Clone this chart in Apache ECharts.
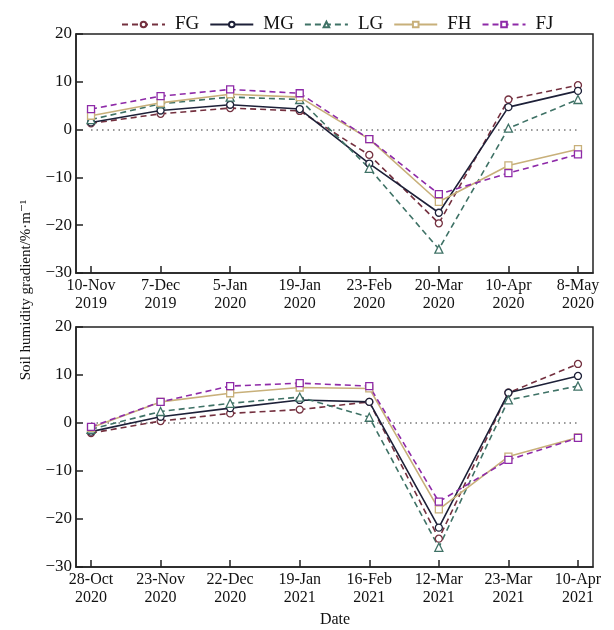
<!DOCTYPE html>
<html>
<head>
<meta charset="utf-8">
<script src="https://cdn.jsdelivr.net/npm/echarts@6/dist/echarts.min.js"></script>
<style>
  html, body { margin: 0; padding: 0; background: #fff; }
  #chart { width: 614px; height: 630px; }
</style>
</head>
<body>
<div id="chart"></div>
<script>
// Sampling dates, period 1 (2019–2020) and period 2 (2020–2021)
const dates1 = ['10-Nov\n2019', '7-Dec\n2019', '5-Jan\n2020', '19-Jan\n2020', '23-Feb\n2020', '20-Mar\n2020', '10-Apr\n2020', '8-May\n2020'];
const dates2 = ['28-Oct\n2020', '23-Nov\n2020', '22-Dec\n2020', '19-Jan\n2021', '16-Feb\n2021', '12-Mar\n2021', '23-Mar\n2021', '10-Apr\n2021'];

// Soil humidity gradient (%·m⁻¹), period 1
const FG1 = [1.3, 3.3, 4.5, 3.9, -5.3, -19.6, 6.3, 9.3];
const MG1 = [1.5, 4.0, 5.2, 4.3, -7.1, -17.4, 4.7, 8.1];
const LG1 = [2.1, 5.4, 6.8, 6.3, -8.1, -25.0, 0.3, 6.3];
const FH1 = [2.9, 5.6, 7.4, 6.8, -2.0, -15.1, -7.5, -4.1];
const FJ1 = [4.3, 7.0, 8.4, 7.6, -2.0, -13.5, -9.1, -5.2];

// Period 2
const FG2 = [-2.1, 0.4, 2.0, 2.8, 4.4, -24.1, 6.3, 12.3];
const MG2 = [-1.8, 1.3, 3.1, 4.8, 4.4, -21.8, 6.3, 9.8];
const LG2 = [-1.3, 2.4, 4.1, 5.4, 1.2, -25.9, 4.8, 7.7];
const FH2 = [-1.0, 4.4, 6.2, 7.4, 7.2, -18.0, -7.0, -3.0];
const FJ2 = [-0.8, 4.4, 7.7, 8.3, 7.7, -16.4, -7.7, -3.1];

const FONT = '"Liberation Serif", "DejaVu Serif", serif';
const TEXT = '#111';

const styles = {
  FG: { color: '#74303f', type: [6, 4], symbol: 'circle' },
  MG: { color: '#1d2038', type: 'solid', symbol: 'circle' },
  LG: { color: '#3f7266', type: [6, 4], symbol: 'triangle' },
  FH: { color: '#c8b07a', type: 'solid', symbol: 'rect' },
  FJ: { color: '#8e2aa8', type: [6, 4], symbol: 'rect' }
};

const idx = [0, 1, 2, 3, 4, 5, 6, 7];

function xAxisFor(gridIndex, labels) {
  return {
    type: 'value', gridIndex,
    min: -0.216, max: 7.216,
    axisLine: { show: true, onZero: false, lineStyle: { color: '#222', width: 1.5 } },
    axisTick: { show: true, inside: true, length: 7, customValues: idx, lineStyle: { color: '#222', width: 1.5 } },
    axisLabel: {
      customValues: idx,
      formatter: v => labels[Math.round(v)],
      fontFamily: FONT, fontSize: 16, color: TEXT, lineHeight: 18, margin: 4
    },
    splitLine: { show: false }
  };
}

function yAxisFor(gridIndex) {
  return {
    type: 'value', gridIndex,
    min: -30, max: 20, interval: 10,
    axisLine: { show: true, onZero: false, lineStyle: { color: '#222', width: 1.5 } },
    axisTick: { show: true, inside: true, length: 7, lineStyle: { color: '#222', width: 1.5 } },
    axisLabel: {
      formatter: v => (v < 0 ? '\u2212' + Math.abs(v) : String(v)),
      fontFamily: FONT, fontSize: 17, color: TEXT, margin: 4
    },
    splitLine: { show: false }
  };
}

function makeSeries(name, values, gridIndex, withZero) {
  const s = styles[name];
  const ser = {
    name, type: 'line',
    xAxisIndex: gridIndex, yAxisIndex: gridIndex,
    data: values.map((v, i) => [i, v]),
    symbol: s.symbol, symbolSize: s.symbol === 'triangle' ? 8 : 7,
    showSymbol: true,
    itemStyle: { color: '#fff', borderColor: s.color, borderWidth: 1.3 },
    lineStyle: { color: s.color, width: 1.6, type: s.type },
    emphasis: { disabled: true },
    z: 3
  };
  if (withZero) {
    // dotted zero reference line across the sampling range
    ser.markLine = {
      silent: true, symbol: 'none', label: { show: false },
      lineStyle: { color: '#777', type: [1.5, 4], width: 1.6 },
      data: [[{ coord: [0, 0] }, { coord: [7, 0] }]],
      z: 1
    };
  }
  return ser;
}

const names = ['FG', 'MG', 'LG', 'FH', 'FJ'];
const set1 = { FG: FG1, MG: MG1, LG: LG1, FH: FH1, FJ: FJ1 };
const set2 = { FG: FG2, MG: MG2, LG: LG2, FH: FH2, FJ: FJ2 };

const series = [];
names.forEach((n, k) => series.push(makeSeries(n, set1[n], 0, k === 0)));
names.forEach((n, k) => series.push(makeSeries(n, set2[n], 1, k === 0)));

const chart = echarts.init(document.getElementById('chart'), null, { renderer: 'canvas' });
chart.setOption({
  animation: false,
  backgroundColor: '#fff',
  legend: {
    data: names,
    top: 10, left: 116,
    itemWidth: 43, itemHeight: 7, itemGap: 10,
    textStyle: { fontFamily: FONT, fontSize: 19, color: TEXT, padding: [0, 0, 0, 5] }
  },
  grid: [
    { left: 76, top: 34, width: 517, height: 239, show: true, borderColor: '#222', borderWidth: 1.5, backgroundColor: 'transparent' },
    { left: 76, top: 327, width: 517, height: 240, show: true, borderColor: '#222', borderWidth: 1.5, backgroundColor: 'transparent' }
  ],
  xAxis: [xAxisFor(0, dates1), xAxisFor(1, dates2)],
  yAxis: [yAxisFor(0), yAxisFor(1)],
  series,
  graphic: [
    {
      type: 'text', rotation: Math.PI / 2,
      x: 26, y: 290,
      style: { text: 'Soil humidity gradient/%\u00b7m\u207b\u00b9', fontFamily: FONT, fontSize: 15, fill: TEXT, align: 'center', verticalAlign: 'middle' }
    },
    {
      type: 'text', x: 335, y: 620,
      style: { text: 'Date', fontFamily: FONT, fontSize: 16, fill: TEXT, align: 'center', verticalAlign: 'middle' }
    }
  ]
});
</script>
</body>
</html>
